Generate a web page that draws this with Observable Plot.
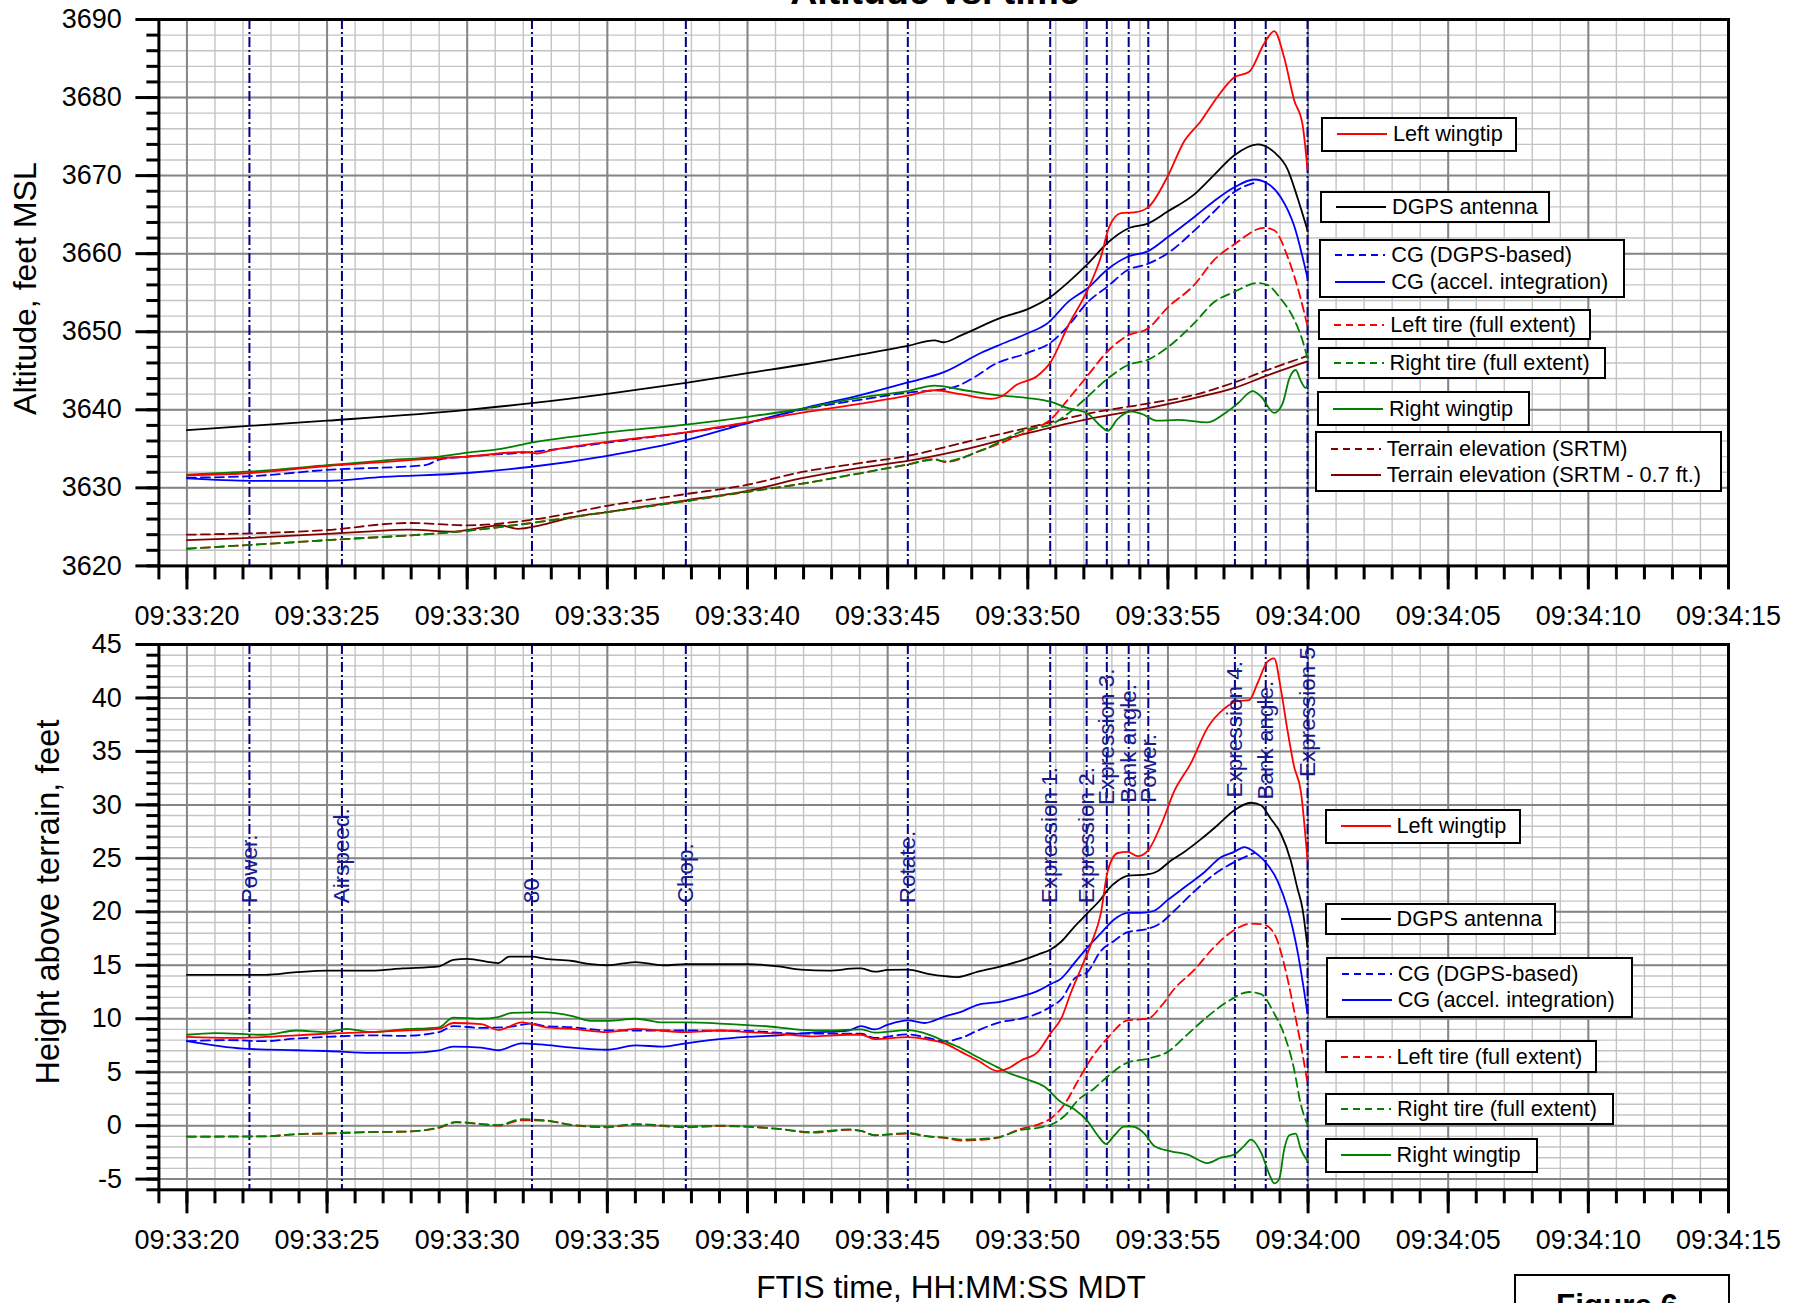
<!DOCTYPE html>
<html>
<head>
<meta charset="utf-8">
<script src="https://cdn.jsdelivr.net/npm/d3@7"></script>
<script src="https://cdn.jsdelivr.net/npm/@observablehq/plot@0.6"></script>
<style>
  html, body { margin: 0; padding: 0; background: #fff; overflow: hidden; }
  #page { position: relative; width: 1803px; height: 1303px; overflow: hidden;
          font-family: "Liberation Sans", Arial, sans-serif; background: #fff; }
  .legend { position: absolute; box-sizing: border-box; border: 2px solid #000; background: #fff;
            display: flex; flex-direction: column; justify-content: center;
            font-size: 21.7px; color: #000; }
  .legend .row { display: flex; align-items: center; height: 26.5px; white-space: nowrap; }
  .legend .row svg { margin-left: 14px; margin-right: 6px; flex: none; }
</style>
</head>
<body>
<div id="page"></div>
<script>
// ---- Time axis: seconds after 09:33:20 MDT ----
const tickSeconds = [0, 5, 10, 15, 20, 25, 30, 35, 40, 45, 50, 55];
const tickLabels = ["09:33:20", "09:33:25", "09:33:30", "09:33:35", "09:33:40", "09:33:45",
                    "09:33:50", "09:33:55", "09:34:00", "09:34:05", "09:34:10", "09:34:15"];
const minorSeconds = d3.range(-1, 56, 1);

// ---- Event markers ----
const eventSeconds = [2.23, 5.53, 12.31, 17.8, 25.72, 30.8, 32.1, 32.82, 33.6, 34.3, 37.39, 38.49, 39.98];
const eventLabels = ["Power.", "Airspeed.", "80", "Chop.", "Rotate.", "Expression 1.", "Expression 2.",
                     "Expression 3.", "Bank angle.", "Power.", "Expression 4.", "Bank angle.", "Expression 5"];
const eventLabelBase = [20.8, 20.8, 20.8, 20.8, 20.8, 20.8, 20.8, 30.0, 30.2, 30.2, 30.7, 30.5, 32.6];

// ---- Series names ----
const seriesLabels = {
  leftWingtip: "Left wingtip",
  dgps: "DGPS antenna",
  cgDgps: "CG (DGPS-based)",
  cgAccel: "CG (accel. integration)",
  leftTire: "Left tire (full extent)",
  rightTire: "Right tire (full extent)",
  rightWingtip: "Right wingtip",
  srtm: "Terrain elevation (SRTM)",
  srtmLow: "Terrain elevation (SRTM - 0.7 ft.)"
};

// ---- Altitude, feet MSL: [seconds, feet] ----
const altLeftWingtip = [[0,3631.6],[2.3,3631.9],[5,3632.8],[7,3633.3],[9,3633.8],[10,3634.0],[12,3634.6],[12.5,3634.4],[13,3634.8],[15,3635.9],[17.8,3637.1],[20,3638.4],[21.9,3639.6],[24.06,3640.8],[25.72,3641.8],[26.67,3642.5],[27.6,3642.0],[28.7,3641.4],[29.05,3641.7],[29.6,3643.2],[30.36,3644.4],[30.83,3646.2],[31.43,3650.7],[32.14,3655.4],[32.61,3659.6],[32.9,3663.4],[33.33,3665.2],[33.8,3665.3],[34.28,3665.9],[34.99,3669.9],[35.58,3674.4],[36.18,3677.0],[36.65,3679.5],[37.37,3682.6],[37.9,3683.3],[38.43,3686.9],[38.79,3688.5],[39.15,3685.1],[39.5,3679.7],[39.8,3676.6],[39.98,3670.8]];
const altDgps = [[0,3637.4],[5,3638.6],[10,3640.0],[12.3,3640.85],[15,3642.05],[17.8,3643.46],[20,3644.7],[22,3645.8],[24.06,3647.1],[25.72,3648.2],[26.67,3648.9],[27.0,3648.65],[27.6,3649.5],[29.05,3651.8],[30,3652.9],[30.83,3654.5],[31.43,3656.3],[32.14,3658.7],[32.85,3661.4],[33.56,3663.2],[34.28,3663.85],[34.99,3665.4],[35.94,3667.6],[36.65,3670.1],[37.37,3672.6],[38.2,3674.0],[38.79,3673.0],[39.27,3670.8],[39.62,3667.2],[39.98,3663.0]];
const altCgDgps = [[0,3631.3],[2.3,3631.5],[5,3632.3],[8.5,3632.9],[9,3633.6],[10,3634.0],[12.3,3634.6],[15,3635.8],[17.8,3637.1],[20,3638.3],[21.9,3640.0],[24.06,3641.3],[25.72,3642.2],[27.27,3642.8],[28.2,3644.4],[28.75,3645.7],[30,3647.3],[30.83,3648.65],[31.43,3650.7],[32.14,3653.8],[32.85,3655.8],[33.56,3657.9],[34.28,3658.7],[34.99,3660.05],[35.94,3662.95],[36.65,3665.4],[37.37,3667.9],[38.2,3669.2]];
const altCgAccel = [[0,3631.2],[2.3,3630.9],[5,3630.9],[7,3631.4],[10,3631.9],[12.3,3632.7],[15,3634.1],[17.8,3636.1],[20,3638.3],[21.9,3640.1],[24.06,3641.9],[25.72,3643.5],[27.03,3644.85],[28.34,3647.3],[29.05,3648.4],[30,3649.8],[30.71,3651.1],[31.43,3653.8],[32.14,3655.6],[32.85,3658.0],[33.56,3659.6],[34.28,3660.3],[34.99,3662.1],[35.94,3664.7],[36.65,3666.75],[37.37,3668.5],[38.08,3669.5],[38.55,3669.0],[39.03,3667.2],[39.5,3663.6],[39.98,3656.9]];
const altLeftTire = [[0,3622.2],[5,3623.3],[10,3624.5],[12.3,3625.5],[15,3626.9],[17.8,3628.3],[20,3629.5],[21.9,3630.5],[24.06,3631.9],[25.72,3633.0],[26.67,3633.7],[27.03,3633.3],[28.34,3634.8],[30,3637.25],[30.83,3638.8],[31.43,3641.3],[32.14,3644.4],[32.85,3647.5],[33.56,3649.5],[34.28,3650.4],[34.99,3653.1],[35.94,3656.0],[36.65,3659.2],[37.37,3661.2],[38.43,3663.3],[38.79,3663.0],[39.27,3659.6],[39.74,3654.2],[39.98,3650.7]];
const altRightTire = [[0,3622.2],[5,3623.3],[10,3624.5],[12.3,3625.5],[15,3626.9],[17.8,3628.3],[20,3629.5],[21.9,3630.5],[24.06,3631.9],[25.72,3633.0],[26.67,3633.6],[27.03,3633.4],[28.34,3634.8],[30,3637.5],[30.83,3638.1],[31.43,3639.5],[32.14,3641.7],[32.85,3644.0],[33.56,3645.7],[34.28,3646.4],[34.99,3648.0],[35.94,3651.1],[36.65,3653.8],[37.37,3655.1],[38.2,3656.25],[38.55,3656.0],[39.03,3654.2],[39.5,3651.6],[39.8,3648.9],[39.98,3646.6]];
const altRightWingtip = [[0,3631.7],[2.3,3632.1],[5,3632.9],[7,3633.5],[9,3634.0],[10,3634.5],[11.2,3635.0],[12.3,3635.8],[15,3637.1],[17.8,3638.1],[20,3639.1],[21.9,3640.1],[24.06,3641.6],[25.72,3642.4],[26.67,3643.1],[27.6,3642.6],[28.8,3641.9],[30,3641.5],[30.83,3641.0],[31.43,3640.2],[32.14,3639.5],[32.61,3637.9],[32.85,3637.3],[33.2,3638.8],[33.68,3639.8],[34.04,3639.5],[34.63,3638.6],[35.35,3638.7],[36.42,3638.4],[37.01,3639.5],[37.49,3640.8],[38.02,3642.4],[38.32,3641.7],[38.79,3639.6],[39.09,3640.8],[39.33,3644.0],[39.56,3645.1],[39.74,3643.7],[39.92,3642.8],[39.98,3643.1]];
const altSrtm = [[0,3624.0],[5,3624.6],[7.9,3625.5],[10,3625.2],[12.3,3625.9],[15,3627.7],[17.8,3629.2],[20,3630.4],[21.9,3632.0],[24.06,3633.2],[25.72,3634.1],[27.6,3635.7],[30,3637.7],[32.14,3639.5],[34.28,3640.8],[35.94,3641.9],[37.37,3643.5],[38.55,3645.1],[39.98,3646.9]];
const altSrtmLow = [[0,3623.3],[2.3,3623.6],[5,3624.1],[6.4,3624.4],[7.9,3624.65],[9.5,3624.4],[11.2,3625.2],[11.8,3624.75],[12.6,3625.2],[13.7,3626.2],[15,3626.9],[17.8,3628.4],[20,3629.6],[21.9,3631.2],[24.06,3632.6],[25.72,3633.45],[27.6,3634.8],[30,3637.0],[32.14,3638.8],[34.28,3640.2],[35.94,3641.5],[37.37,3642.8],[38.55,3644.4],[39.98,3646.2]];

// ---- Height above terrain, feet: [seconds, feet] ----
const hLeftWingtip = [[0,8.3],[1.5,8.2],[2.8,8.3],[3.9,8.45],[5,8.6],[6.55,8.75],[7.7,8.9],[9.0,9.05],[9.5,9.6],[10.5,9.5],[11.1,8.95],[11.95,9.65],[12.8,9.2],[13.75,9.05],[15,8.75],[16,9.05],[17.8,8.75],[19,8.9],[20,8.75],[21.1,8.6],[22.3,8.35],[23.6,8.5],[24.06,8.5],[24.54,8.1],[25.72,8.28],[26.44,8.05],[27.03,7.7],[27.62,6.9],[28.22,6.1],[28.93,5.1],[29.29,5.35],[29.76,6.1],[30.36,6.9],[30.83,8.7],[31.19,10.0],[31.54,12.45],[31.9,14.7],[32.26,17.0],[32.61,19.9],[32.85,23.8],[33.21,25.5],[33.56,25.6],[33.92,25.2],[34.28,25.7],[34.75,28.1],[35.23,31.3],[35.82,33.9],[36.41,37.2],[37.01,39.0],[37.48,39.7],[37.9,39.8],[38.2,41.4],[38.55,43.4],[38.79,43.7],[39.03,40.8],[39.27,36.9],[39.5,33.6],[39.74,31.3],[39.98,24.8]];
const hDgps = [[0,14.1],[2.8,14.1],[3.9,14.35],[5,14.5],[6.55,14.5],[7.7,14.7],[9.0,14.9],[9.5,15.5],[10,15.6],[11.1,15.2],[11.5,15.8],[12.3,15.8],[12.8,15.6],[13.75,15.4],[14.4,15.1],[15,15.0],[16,15.3],[17,15.0],[17.8,15.1],[19,15.1],[20,15.1],[21.1,14.9],[21.9,14.6],[22.9,14.5],[23.9,14.7],[24.06,14.7],[24.54,14.4],[25.01,14.56],[25.72,14.6],[26.44,14.2],[27.03,13.98],[27.51,13.9],[28.22,14.4],[29.05,14.9],[29.76,15.44],[30.36,16.0],[30.83,16.5],[31.19,17.2],[31.66,18.6],[32.14,19.9],[32.61,21.2],[32.85,22.05],[33.21,22.9],[33.56,23.35],[34.28,23.5],[34.63,23.8],[35.11,24.8],[35.58,25.6],[36.18,26.8],[36.77,28.1],[37.37,29.5],[37.96,30.2],[38.32,29.96],[38.67,28.7],[39.03,27.3],[39.38,24.8],[39.62,22.2],[39.8,20.3],[39.98,16.7]];
const hCgDgps = [[0,7.9],[1.5,8.0],[2.8,7.9],[3.9,8.15],[5,8.3],[6.55,8.45],[7.7,8.4],[9.0,8.75],[9.5,9.3],[10.5,9.15],[11.4,9.2],[12.3,9.55],[12.8,9.3],[13.75,9.2],[15,8.9],[17.8,8.9],[20,8.85],[21.9,8.6],[24.06,8.6],[24.54,8.2],[25.72,8.54],[26.44,8.2],[27.03,7.9],[27.62,8.2],[28.22,8.9],[29.05,9.7],[29.76,10.0],[30.36,10.5],[30.83,11.15],[31.19,11.8],[31.66,13.75],[32.14,14.4],[32.61,16.35],[33.09,17.3],[33.56,18.1],[34.28,18.4],[34.75,18.96],[35.23,20.1],[35.94,21.9],[36.65,23.5],[37.37,24.65],[38.08,25.5]];
const hCgAccel = [[0,7.9],[2.0,7.2],[3.9,7.05],[5,6.98],[6.55,6.8],[7.85,6.8],[9.0,7.05],[9.5,7.4],[10.5,7.3],[11.1,7.05],[11.95,7.7],[12.6,7.6],[13.75,7.3],[15,7.1],[16,7.5],[17,7.4],[17.8,7.7],[19,8.1],[20,8.3],[21.1,8.45],[22.3,8.7],[23.6,8.9],[24.06,9.3],[24.54,9.0],[25.01,9.45],[25.72,9.85],[26.32,9.6],[27.03,10.2],[27.62,10.65],[28.22,11.3],[29.05,11.6],[29.64,12.0],[30.36,12.6],[30.83,13.26],[31.19,13.75],[31.66,15.2],[32.14,16.7],[32.61,18.0],[33.09,19.3],[33.56,19.9],[34.04,19.9],[34.51,20.1],[34.99,21.1],[35.7,22.5],[36.3,23.7],[36.89,25.1],[37.37,25.6],[37.72,26.05],[38.08,25.6],[38.43,24.8],[38.91,22.9],[39.27,20.3],[39.62,16.35],[39.98,10.5]];
const hLeftTire = [[0,-1.0],[2.8,-1.0],[3.9,-0.8],[5,-0.75],[6.55,-0.6],[7.85,-0.55],[9.0,-0.2],[9.6,0.3],[10.5,0.15],[11.1,0.0],[11.95,0.5],[12.8,0.45],[13.75,0.05],[15,-0.15],[16,0.1],[17.8,-0.15],[19,-0.05],[20,-0.1],[21.1,-0.3],[22.3,-0.65],[23.6,-0.4],[24.06,-0.5],[24.54,-0.9],[25.72,-0.74],[26.44,-1.0],[27.15,-1.2],[27.62,-1.4],[28.81,-1.2],[29.76,-0.3],[30.36,0.1],[30.83,0.7],[31.31,2.0],[31.78,4.15],[32.26,6.26],[32.85,8.2],[33.56,9.85],[34.28,10.0],[34.75,11.15],[35.23,12.8],[35.94,14.56],[36.65,16.7],[37.37,18.3],[37.96,18.9],[38.43,18.8],[38.85,17.65],[39.15,15.05],[39.5,10.8],[39.74,7.6],[39.98,4.0]];
const hRightTire = [[0,-1.05],[2.8,-1.0],[3.9,-0.8],[5,-0.7],[6.55,-0.6],[7.85,-0.55],[9.0,-0.15],[9.6,0.35],[10.5,0.15],[11.1,0.05],[11.95,0.6],[12.8,0.5],[13.75,0.05],[15,-0.1],[16,0.15],[17.8,-0.1],[19,0.0],[20,-0.1],[21.1,-0.3],[22.3,-0.6],[23.6,-0.35],[24.06,-0.5],[24.54,-0.9],[25.72,-0.7],[26.44,-1.0],[27.15,-1.15],[27.62,-1.3],[28.81,-1.15],[29.76,-0.4],[30.36,-0.2],[30.83,0.1],[31.31,0.9],[31.78,2.35],[32.38,3.5],[32.85,4.6],[33.56,5.9],[34.28,6.26],[34.99,6.9],[35.7,8.54],[36.41,10.2],[37.13,11.6],[37.9,12.5],[38.32,12.3],[38.79,10.5],[39.15,8.5],[39.5,5.3],[39.74,2.0],[39.98,0.1]];
const hRightWingtip = [[0,8.5],[1.0,8.65],[2.8,8.5],[3.9,8.9],[5,8.75],[5.7,9.05],[6.55,8.75],[7.7,9.0],[9.0,9.2],[9.5,10.1],[10.5,10.0],[11.1,10.15],[11.6,10.55],[12.3,10.6],[12.8,10.6],[13.75,10.25],[14.4,9.8],[15,9.8],[16,10.0],[17,9.65],[17.8,9.65],[19,9.55],[20,9.4],[21.1,9.2],[21.9,8.95],[22.9,8.9],[24.06,9.0],[24.54,8.7],[25.72,8.93],[26.44,8.54],[27.03,7.9],[27.62,7.24],[28.22,6.4],[28.93,5.45],[29.29,4.96],[30,4.3],[30.59,3.65],[31.19,2.2],[31.66,1.54],[32.14,0.4],[32.49,-0.9],[32.79,-1.7],[33.09,-0.9],[33.44,-0.1],[33.74,-0.1],[34.16,-0.74],[34.51,-1.9],[35.11,-2.4],[35.7,-2.7],[36.41,-3.5],[36.89,-3.0],[37.37,-2.7],[37.72,-1.9],[37.96,-1.3],[38.32,-2.5],[38.61,-4.5],[38.79,-5.4],[38.97,-5.0],[39.15,-2.2],[39.33,-0.9],[39.56,-0.74],[39.74,-2.2],[39.98,-3.3]];

// ---- Styling ----
const RED = "#ff0000", BLACK = "#000000", BLUE = "#0000ff", GREEN = "#008000", MAROON = "#800000";
const DASH = "9,5";
const style = {
  leftWingtip: {color: RED}, dgps: {color: BLACK}, cgDgps: {color: BLUE, dash: DASH},
  cgAccel: {color: BLUE}, leftTire: {color: RED, dash: DASH}, rightTire: {color: GREEN, dash: DASH},
  rightWingtip: {color: GREEN}, srtm: {color: MAROON, dash: DASH}, srtmLow: {color: MAROON}
};

const page = document.getElementById("page");
const FONT = "'Liberation Sans', Arial, sans-serif";
const W = 1803, ML = 158.4, MR = 75;

function panel({series, yDomain, yMajor, yMinor, height, marginTop, marginBottom, labelled}) {
  const marks = [
    Plot.ruleY(yMinor, {stroke: "#c4c4c4", strokeWidth: 1.4}),
    Plot.ruleX(minorSeconds, {stroke: "#c4c4c4", strokeWidth: 1.4}),
    Plot.ruleY(yMajor, {stroke: "#858585", strokeWidth: 2}),
    Plot.ruleX(tickSeconds, {stroke: "#858585", strokeWidth: 2}),
    Plot.ruleX(eventSeconds, {stroke: "#00008b", strokeWidth: 2, strokeDasharray: "10,3,2,3"})
  ];
  for (const [key, data] of series) {
    const s = style[key];
    const opts = {x: d => d[0], y: d => d[1], stroke: s.color, strokeWidth: 1.8, curve: "monotone-x"};
    if (s.dash) opts.strokeDasharray = s.dash;
    marks.push(Plot.line(data, opts));
  }
  if (labelled) {
    const ev = eventSeconds.map((t, i) => ({t, label: eventLabels[i], base: eventLabelBase[i]}));
    marks.push(Plot.text(ev, {x: "t", y: "base", text: "label", rotate: -90, textAnchor: "start",
      fill: "#1a1a90", fontSize: 22.5, fontFamily: FONT}));
  }
  const hasAxisMarks = typeof Plot.axisX === "function";
  if (hasAxisMarks) {
    marks.push(
      Plot.axisX({ticks: minorSeconds, anchor: "bottom", tickSize: 14, tickFormat: () => "", strokeWidth: 3, stroke: BLACK, label: null}),
      Plot.axisX({ticks: tickSeconds, anchor: "bottom", tickSize: 24, tickPadding: 16,
        tickFormat: d => tickLabels[tickSeconds.indexOf(d)], fontSize: 27, strokeWidth: 3, stroke: BLACK, fill: BLACK, label: null}),
      Plot.axisY({ticks: yMinor, anchor: "left", tickSize: 12, tickFormat: () => "", strokeWidth: 3, stroke: BLACK, label: null}),
      Plot.axisY({ticks: yMajor, anchor: "left", tickSize: 23, tickPadding: 14,
        tickFormat: d => String(d), fontSize: 27, strokeWidth: 3, stroke: BLACK, fill: BLACK, label: null})
    );
  }
  marks.push(Plot.frame({stroke: BLACK, strokeWidth: 3}));
  const svg = Plot.plot({
    width: W, height, marginLeft: ML, marginRight: MR, marginTop, marginBottom,
    x: hasAxisMarks ? {domain: [-1, 55]} :
      {domain: [-1, 55], ticks: tickSeconds, tickSize: 24, tickPadding: 16, tickFormat: d => tickLabels[tickSeconds.indexOf(d)], label: null},
    y: hasAxisMarks ? {domain: yDomain} :
      {domain: yDomain, ticks: yMajor, tickSize: 23, tickPadding: 14, tickFormat: d => String(d), label: null},
    style: {fontFamily: FONT, fontSize: "27px", background: "transparent", overflow: "visible", color: "#000"},
    marks
  });
  svg.style.position = "absolute";
  svg.style.left = "0px";
  svg.style.background = "transparent";
  svg.style.overflow = "visible";
  svg.style.maxWidth = "none";
  return svg;
}

// Altitude vs. time
const altitudePanel = panel({
  series: [["srtm", altSrtm], ["srtmLow", altSrtmLow], ["leftTire", altLeftTire], ["rightTire", altRightTire],
           ["cgDgps", altCgDgps], ["cgAccel", altCgAccel], ["dgps", altDgps],
           ["rightWingtip", altRightWingtip], ["leftWingtip", altLeftWingtip]],
  yDomain: [3620, 3690], yMajor: d3.range(3620, 3691, 10), yMinor: d3.range(3620, 3691, 2),
  height: 620, marginTop: 19, marginBottom: 54.6, labelled: false
});
altitudePanel.style.top = "0px";
page.appendChild(altitudePanel);

// Height above terrain vs. time
const heightPanel = panel({
  series: [["leftTire", hLeftTire], ["rightTire", hRightTire], ["cgDgps", hCgDgps], ["cgAccel", hCgAccel],
           ["dgps", hDgps], ["rightWingtip", hRightWingtip], ["leftWingtip", hLeftWingtip]],
  yDomain: [-6, 45], yMajor: d3.range(-5, 46, 5), yMinor: d3.range(-6, 46, 1),
  height: 683, marginTop: 24, marginBottom: 113.7, labelled: true
});
heightPanel.style.top = "620px";
page.appendChild(heightPanel);

// Titles, axis titles and figure tag
const NS = "http://www.w3.org/2000/svg";
const over = document.createElementNS(NS, "svg");
over.setAttribute("width", W); over.setAttribute("height", 1303);
over.style.cssText = "position:absolute;left:0;top:0;overflow:hidden;pointer-events:none";
function addText(str, x, y, size, opts = {}) {
  const t = document.createElementNS(NS, "text");
  t.textContent = str;
  t.setAttribute("x", 0); t.setAttribute("y", 0);
  t.setAttribute("transform", `translate(${x},${y})` + (opts.rotate ? ` rotate(${opts.rotate})` : ""));
  t.setAttribute("text-anchor", opts.anchor || "middle");
  t.setAttribute("font-family", FONT);
  t.setAttribute("font-size", size);
  if (opts.bold) t.setAttribute("font-weight", "bold");
  t.setAttribute("fill", "#000");
  over.appendChild(t);
}
addText("Altitude vs. time", 935, 4, 37.5, {bold: true});
addText("Altitude, feet MSL", 35.5, 288.6, 32, {rotate: -90});
addText("Height above terrain, feet", 59, 902, 32.5, {rotate: -90});
addText("FTIS time, HH:MM:SS MDT", 951, 1297.5, 31.6);
const fig = document.createElementNS(NS, "rect");
fig.setAttribute("x", 1515); fig.setAttribute("y", 1275); fig.setAttribute("width", 214); fig.setAttribute("height", 60);
fig.setAttribute("fill", "#fff"); fig.setAttribute("stroke", "#000"); fig.setAttribute("stroke-width", 2);
over.appendChild(fig);
addText("Figure 6", 1617, 1315.5, 31.4, {bold: true});
page.appendChild(over);

// Legend boxes
function legend(x, y, w, h, keys) {
  const box = document.createElement("div");
  box.className = "legend";
  box.style.left = x + "px"; box.style.top = y + "px";
  box.style.width = w + "px"; box.style.height = h + "px";
  for (const key of keys) {
    const s = style[key];
    const row = document.createElement("div");
    row.className = "row";
    row.innerHTML = `<svg width="50" height="6"><line x1="0" y1="3" x2="50" y2="3" stroke="${s.color}" stroke-width="2"` +
      (s.dash ? ` stroke-dasharray="7,5"` : "") + `/></svg><span>${seriesLabels[key]}</span>`;
    box.appendChild(row);
  }
  page.appendChild(box);
}
legend(1321, 116.6, 196, 35, ["leftWingtip"]);
legend(1320, 190.6, 230, 32, ["dgps"]);
legend(1319.3, 239, 305.7, 59.3, ["cgDgps", "cgAccel"]);
legend(1318.3, 309, 272.7, 31, ["leftTire"]);
legend(1317.6, 347, 288.4, 32, ["rightTire"]);
legend(1317, 391, 213, 35, ["rightWingtip"]);
legend(1314.8, 431.4, 407.2, 61, ["srtm", "srtmLow"]);

legend(1324.5, 808.6, 196, 35.7, ["leftWingtip"]);
legend(1324.5, 903, 231.5, 32, ["dgps"]);
legend(1325.7, 956.7, 307.3, 61, ["cgDgps", "cgAccel"]);
legend(1324.5, 1040, 272, 33, ["leftTire"]);
legend(1325, 1092.6, 288.7, 32, ["rightTire"]);
legend(1324.5, 1137.9, 213.2, 35.1, ["rightWingtip"]);
</script>
</body>
</html>
